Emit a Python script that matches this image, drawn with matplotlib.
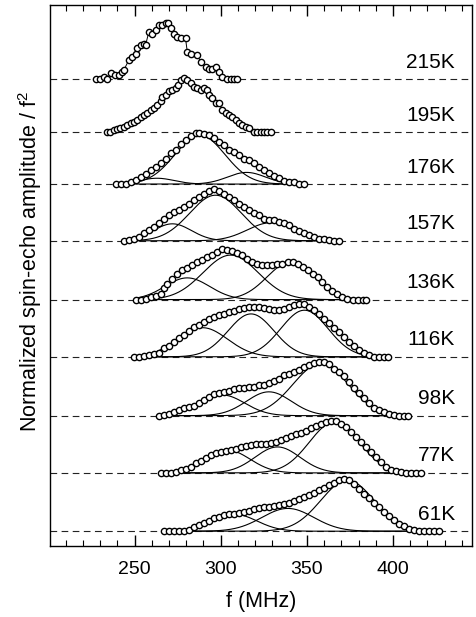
import numpy as np
import matplotlib.pyplot as plt

plt.rcParams['font.family'] = ['Liberation Sans', 'DejaVu Sans']
plt.rcParams['mathtext.fontset'] = 'custom'
plt.rcParams['mathtext.rm'] = 'Liberation Sans'
plt.rcParams['mathtext.it'] = 'Liberation Sans'

# temperatures, bottom to top
temps = ['61K', '77K', '98K', '116K', '136K', '157K', '176K', '195K', '215K']
# baseline of each spectrum (normalized units)
offsets = [0.28, 1.38, 2.46, 3.57, 4.65, 5.76, 6.83, 7.81, 8.81]

# spin-echo data: frequency (MHz) and normalized amplitude
f_215 = [227.9, 230.2, 232.2, 234.1, 236.4, 238.4, 240.9, 242.8, 243.8, 246.7, 248.6, 250.6, 251.5,
         253.5, 255.4, 256.4, 258.3, 260.3, 262.2, 264.1, 266.1, 268.0, 269.4, 270.9, 272.9, 274.8,
         276.7, 279.6, 280.6, 282.5, 286.4, 288.4, 291.3, 293.2, 295.1, 297.1, 299.0, 301.0, 303.9,
         305.8, 307.7, 309.7]
a_215 = [0.0, 0.01, 0.04, 0.01, 0.11, 0.07, 0.07, 0.14, 0.17, 0.36, 0.42, 0.48, 0.58,
         0.64, 0.67, 0.64, 0.89, 0.86, 0.92, 1.02, 1.02, 1.05, 1.06, 0.96, 0.86, 0.80,
         0.77, 0.77, 0.52, 0.48, 0.45, 0.33, 0.23, 0.20, 0.20, 0.23, 0.14, 0.04, 0.0,
         0.0, 0.0, 0.0]

f_195 = [234.1, 236.0, 238.0, 239.9, 241.8, 243.8, 245.7, 247.7, 249.6, 251.5, 253.5, 255.4, 257.3,
         259.3, 261.2, 263.2, 265.1, 266.1, 268.0, 269.9, 271.9, 273.8, 275.2, 276.7, 278.7, 280.6,
         282.5, 284.5, 286.4, 288.4, 290.3, 292.2, 293.2, 295.1, 297.1, 299.0, 300.9, 302.9, 304.8,
         306.8, 308.7, 310.6, 312.6, 314.5, 316.5, 319.4, 321.3, 323.2, 325.2, 327.1, 329.1]
a_195 = [0.0, 0.01, 0.04, 0.06, 0.07, 0.10, 0.14, 0.17, 0.20, 0.23, 0.29, 0.33, 0.36,
         0.42, 0.45, 0.52, 0.58, 0.66, 0.70, 0.77, 0.80, 0.83, 0.89, 0.99, 1.02, 0.99,
         0.92, 0.86, 0.83, 0.80, 0.83, 0.80, 0.70, 0.64, 0.55, 0.55, 0.42, 0.36, 0.33,
         0.29, 0.23, 0.17, 0.14, 0.10, 0.07, 0.01, 0.0, 0.0, 0.0, 0.0, 0.0]

f_176 = [239.0, 241.9, 244.8, 247.7, 250.6, 253.5, 256.4, 259.3, 262.2, 265.1, 268.0, 270.9, 273.8,
         276.7, 279.6, 282.6, 285.5, 287.4, 290.3, 293.2, 296.1, 299.0, 301.9, 304.8, 307.8, 310.7,
         313.6, 316.5, 319.4, 322.3, 325.2, 328.1, 331.0, 333.9, 336.8, 339.7, 342.6, 345.5, 348.4]
a_176 = [0.0, 0.0, 0.01, 0.04, 0.08, 0.13, 0.19, 0.26, 0.33, 0.40, 0.48, 0.58, 0.65,
         0.75, 0.83, 0.90, 0.96, 0.97, 0.94, 0.92, 0.86, 0.80, 0.74, 0.65, 0.61, 0.55,
         0.48, 0.45, 0.39, 0.33, 0.26, 0.21, 0.15, 0.11, 0.06, 0.04, 0.03, 0.01, 0.0]

f_157 = [243.8, 246.7, 249.6, 252.5, 255.4, 258.3, 261.2, 264.1, 267.1, 270.0, 272.9, 275.8, 278.7,
         281.6, 284.5, 287.4, 290.3, 293.2, 296.1, 299.0, 301.9, 304.8, 307.8, 310.7, 313.6, 316.5,
         319.4, 322.3, 325.2, 328.1, 331.0, 333.9, 336.8, 339.7, 342.6, 345.5, 348.4, 351.4, 354.3,
         357.2, 360.1, 363.0, 365.9, 368.8]
a_157 = [0.0, 0.01, 0.04, 0.08, 0.14, 0.20, 0.26, 0.33, 0.42, 0.48, 0.55, 0.59, 0.64,
         0.70, 0.77, 0.83, 0.89, 0.94, 0.97, 0.93, 0.88, 0.82, 0.77, 0.70, 0.64, 0.58,
         0.53, 0.48, 0.42, 0.39, 0.39, 0.36, 0.33, 0.30, 0.23, 0.19, 0.15, 0.11, 0.08,
         0.04, 0.03, 0.01, 0.0, 0.0]

f_136 = [250.6, 253.5, 256.4, 259.3, 262.2, 265.1, 267.1, 269.0, 271.9, 274.8, 277.7, 280.6, 283.5,
         286.4, 289.3, 292.3, 295.2, 298.1, 301.0, 303.9, 306.8, 309.7, 312.6, 315.5, 318.4, 321.3,
         324.2, 327.1, 330.0, 332.9, 335.8, 338.8, 341.7, 344.6, 347.5, 350.4, 353.3, 356.2, 359.1,
         362.0, 364.9, 367.8, 370.7, 373.6, 376.6, 379.5, 382.4, 384.3]
a_136 = [0.0, 0.0, 0.02, 0.04, 0.06, 0.11, 0.21, 0.30, 0.38, 0.49, 0.55, 0.60, 0.65,
         0.71, 0.75, 0.80, 0.85, 0.90, 0.96, 0.94, 0.92, 0.88, 0.84, 0.77, 0.71, 0.67,
         0.65, 0.65, 0.65, 0.67, 0.68, 0.71, 0.71, 0.67, 0.62, 0.55, 0.49, 0.43, 0.33,
         0.24, 0.16, 0.10, 0.05, 0.02, 0.0, 0.0, 0.0, 0.0]

f_116 = [249.6, 252.5, 255.4, 258.3, 261.2, 264.1, 267.1, 270.0, 272.9, 275.8, 278.7, 281.6, 284.5,
         287.4, 290.3, 293.2, 296.1, 299.0, 301.9, 304.8, 307.8, 310.7, 313.6, 316.5, 319.4, 322.3,
         325.2, 328.1, 331.0, 333.9, 336.8, 339.7, 342.6, 345.5, 348.4, 351.4, 354.3, 357.2, 360.1,
         363.0, 365.9, 368.8, 371.7, 374.6, 377.5, 380.4, 383.3, 386.2, 389.2, 392.1, 395.0, 396.9]
a_116 = [0.0, 0.0, 0.01, 0.03, 0.05, 0.07, 0.16, 0.20, 0.28, 0.35, 0.41, 0.49, 0.57,
         0.60, 0.66, 0.72, 0.75, 0.79, 0.81, 0.85, 0.87, 0.91, 0.93, 0.94, 0.94, 0.94,
         0.93, 0.91, 0.88, 0.88, 0.91, 0.94, 0.97, 1.00, 0.99, 0.94, 0.88, 0.80, 0.72,
         0.63, 0.55, 0.47, 0.38, 0.28, 0.20, 0.13, 0.07, 0.03, 0.0, 0.0, 0.0, 0.0]

f_98 = [264.1, 267.1, 270.0, 272.9, 275.8, 278.7, 281.6, 284.5, 287.4, 290.3, 293.2, 296.1, 299.0,
        301.9, 304.8, 307.7, 310.7, 313.6, 316.5, 319.4, 322.3, 325.2, 328.1, 331.0, 333.9, 336.8,
        339.7, 342.6, 345.5, 348.4, 351.4, 354.3, 357.2, 360.1, 363.0, 365.9, 368.8, 371.7, 374.6,
        377.5, 380.4, 383.3, 386.2, 389.1, 392.0, 395.0, 397.9, 400.8, 403.7, 406.6, 408.5]
a_98 = [0.0, 0.01, 0.03, 0.06, 0.11, 0.14, 0.16, 0.19, 0.23, 0.30, 0.36, 0.40, 0.42,
        0.44, 0.47, 0.50, 0.53, 0.53, 0.55, 0.55, 0.57, 0.58, 0.61, 0.65, 0.70, 0.76,
        0.78, 0.82, 0.86, 0.91, 0.96, 0.99, 1.01, 1.01, 0.97, 0.89, 0.82, 0.74, 0.64,
        0.53, 0.42, 0.33, 0.23, 0.15, 0.10, 0.06, 0.04, 0.01, 0.0, 0.0, 0.0]

f_77 = [265.1, 268.0, 271.0, 273.8, 276.7, 279.7, 282.6, 285.5, 288.4, 291.3, 294.2, 297.1, 300.0,
        302.9, 305.8, 308.7, 311.6, 314.5, 317.4, 320.4, 323.3, 326.2, 329.1, 332.0, 334.9, 337.8,
        340.7, 343.6, 346.5, 349.4, 352.3, 355.2, 358.1, 361.1, 364.0, 366.9, 369.8, 372.7, 375.6,
        378.5, 381.4, 384.3, 387.2, 390.1, 393.0, 395.9, 398.8, 401.8, 404.7, 407.6, 410.5, 413.4,
        416.3]
a_77 = [0.0, 0.0, 0.0, 0.02, 0.05, 0.08, 0.12, 0.18, 0.23, 0.29, 0.33, 0.37, 0.40,
        0.42, 0.43, 0.46, 0.49, 0.50, 0.52, 0.54, 0.55, 0.55, 0.57, 0.59, 0.62, 0.65,
        0.69, 0.73, 0.76, 0.79, 0.84, 0.88, 0.93, 0.96, 0.98, 0.98, 0.93, 0.86, 0.77,
        0.68, 0.58, 0.49, 0.39, 0.30, 0.21, 0.12, 0.06, 0.04, 0.02, 0.0, 0.0, 0.0,
        0.0]

f_61 = [267.1, 270.0, 272.9, 275.8, 278.7, 281.6, 284.5, 287.4, 290.3, 293.2, 296.1, 299.0, 302.0,
        304.9, 307.8, 310.7, 313.6, 316.5, 319.4, 322.3, 325.2, 328.1, 331.0, 333.9, 336.8, 339.7,
        342.6, 345.5, 348.4, 351.4, 354.3, 357.2, 360.1, 363.0, 365.9, 368.8, 371.7, 374.6, 377.5,
        380.4, 383.3, 386.2, 389.1, 392.1, 395.0, 397.9, 400.8, 403.7, 406.6, 409.5, 412.4, 415.3,
        418.2, 421.1, 424.0, 427.0]
a_61 = [0.0, 0.0, 0.0, 0.0, 0.01, 0.03, 0.07, 0.11, 0.16, 0.20, 0.24, 0.27, 0.30,
        0.32, 0.33, 0.35, 0.36, 0.38, 0.41, 0.43, 0.45, 0.46, 0.47, 0.49, 0.51, 0.53,
        0.57, 0.60, 0.64, 0.68, 0.72, 0.77, 0.82, 0.87, 0.91, 0.96, 0.99, 0.97, 0.90,
        0.80, 0.71, 0.62, 0.53, 0.46, 0.36, 0.28, 0.21, 0.14, 0.09, 0.05, 0.02, 0.01,
        0.0, 0.0, 0.0, 0.0]

freqs = [f_61, f_77, f_98, f_116, f_136, f_157, f_176, f_195, f_215]
amps = [a_61, a_77, a_98, a_116, a_136, a_157, a_176, a_195, a_215]

# fitted gaussian components (center MHz, height, width MHz); none drawn for 195K/215K
comp_61 = [(308, 0.32, 13), (339, 0.43, 15), (373.6, 0.96, 15.5)]
comp_77 = [(304, 0.43, 13), (333, 0.49, 13), (366, 0.96, 14.5)]
comp_98 = [(301, 0.39, 13), (328, 0.45, 13), (358, 0.98, 16)]
comp_116 = [(289.5, 0.55, 14.5), (317.6, 0.81, 13.3), (348.6, 0.88, 13.7)]
comp_136 = [(280.6, 0.41, 13), (305.8, 0.84, 16), (340.7, 0.71, 13.7)]
comp_157 = [(272, 0.32, 11), (297, 0.86, 15), (329, 0.34, 13.5)]
comp_176 = [(263, 0.11, 10), (288, 0.92, 14.5), (315, 0.22, 11)]
comps = [comp_61, comp_77, comp_98, comp_116, comp_136, comp_157, comp_176, [], []]

fig = plt.figure(figsize=(4.77, 6.17), dpi=100)
ax = fig.add_axes([0.105, 0.115, 0.885, 0.877])

for i in range(len(temps)):
    y0 = offsets[i]
    ax.axhline(y0, color='#222222', lw=0.8, ls=(0, (6, 4)), zorder=1)
    f = np.array(freqs[i])
    a = np.array(amps[i])
    # gaussian components
    ff = np.linspace(f.min(), f.max(), 300)
    for c, h, w in comps[i]:
        ax.plot(ff, y0 + h * np.exp(-(ff - c) ** 2 / (2 * w ** 2)), color='black', lw=0.8, zorder=2)
    ax.plot(f, y0 + a, '-', color='black', lw=0.7, zorder=3)
    ax.plot(f, y0 + a, 'o', ms=4.5, mfc='white', mec='black', mew=1.0, zorder=4)
    ax.text(436, y0 + 0.32, temps[i], ha='right', va='center', fontsize=15)

ax.set_xlim(201, 446)
ax.set_ylim(0, 10.21)
ax.set_xticks([250, 300, 350, 400])
ax.set_xticks(np.arange(210, 446, 10), minor=True)
ax.set_yticks([])
ax.tick_params(axis='x', which='both', direction='in', top=True, bottom=True, labelsize=14, pad=11)
ax.tick_params(axis='x', which='major', length=8, width=1)
ax.tick_params(axis='x', which='minor', length=4, width=0.8)
for s in ax.spines.values():
    s.set_linewidth(1.0)

ax.set_xlabel('f (MHz)', fontsize=15.5, labelpad=9)
ax.set_ylabel('Normalized spin-echo amplitude / f$^2$', fontsize=15.5)
ax.yaxis.set_label_coords(-0.015, 0.525)

fig.savefig('out.png', dpi=100)
